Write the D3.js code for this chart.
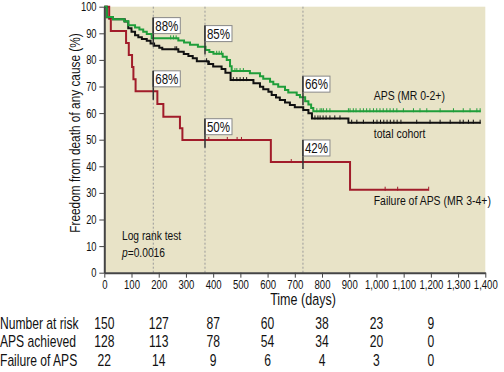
<!DOCTYPE html>
<html lang="en">
<head>
<meta charset="UTF-8">
<title>Freedom from death of any cause</title>
<script src="https://d3js.org/d3.v7.min.js"></script>
<style>
  body { margin: 0; background: #fff; }
  svg { font-family: "Liberation Sans", Arial, sans-serif; }
  .axis path, .axis line { stroke: #444; }
  .axis text { fill: #111; }
</style>
</head>
<body>
<svg width="504" height="372"></svg>
<script>
// Kaplan-Meier steps: [day, survival % after drop]
const apsCurve = [[0,100],[9,96.1],[32,95.3],[73,94.5],[88,93.0],[113,92.2],[129,91.4],[143,90.6],[156,89.7],[174,88.1],
  [272,87.3],[293,86.5],[315,85.7],[344,84.9],[372,83.7],[386,83.0],[401,82.3],[435,81.2],[450,80.0],[462,77.6],[468,75.8],
  [535,75.0],[572,73.9],[584,72.9],[609,71.8],[621,70.8],[639,69.9],[664,68.7],[676,67.7],[707,66.8],[719,66.0],
  [738,64.5],[750,63.2],[760,61.9],[768,60.7]];
const apsEnd = 1383;
const apsCensor = [244,254,264,413,422,431,480,487,499,511,781,793,799,805,817,829,897,903,915,925,940,952,964,976,989,
  1001,1013,1025,1038,1050,1062,1075,1099,1136,1160,1185,1234,1283,1319,1344,1369,1381];

const totalCurve = [[0,100],[9,96.0],[32,95.3],[75,94.4],[88,91.9],[100,90.6],[113,89.3],[125,88.5],[138,87.9],[156,87.2],
  [170,86.2],[183,85.3],[202,84.6],[213,84.0],[272,83.1],[292,82.2],[309,81.5],[325,80.6],[340,79.5],[382,78.5],[400,77.5],
  [431,76.6],[445,75.2],[464,72.4],[548,71.2],[572,69.9],[584,69.0],[603,68.0],[615,66.8],[631,65.9],[645,64.9],[664,64.0],
  [682,63.0],[700,62.2],[731,61.2],[750,59.9],[763,58.0],[897,56.4]];
const totalEnd = 1383;
const totalCensor = [260,266,376,386,474,487,499,511,523,774,785,793,804,815,829,847,866,909,928,952,989,1002,1015,1027,
  1039,1051,1064,1076,1090,1148,1197,1234,1271,1307,1319,1338,1356,1381];

const failCurve = [[0,100],[18,95.5],[24,90.9],[80,86.4],[90,81.8],[102,77.3],[107,72.7],[115,68.2],[195,63.4],[217,58.6],
  [278,54.3],[287,49.9],[612,41.6],[903,31.2]];
const failEnd = 1192;
const failCensor = [384,452,488,504,687,1032,1078,1192];

// annotated landmark values
const markDays = [180, 370, 180, 370, 730, 730];
const markValues = [88, 85, 68, 50, 66, 42];
const guideDays = [180, 370, 730];

// number at risk table
const riskDays = [0, 200, 400, 600, 800, 1000, 1200];
const riskLabels = ["Number at risk", "APS achieved", "Failure of APS"];
const riskTotal = [150, 127, 87, 60, 38, 23, 9];
const riskAps = [128, 113, 78, 54, 34, 20, 0];
const riskFail = [22, 14, 9, 6, 4, 3, 0];

const xTicks = d3.range(0, 1401, 100);
const yTicks = d3.range(0, 101, 10);

const SX = 0.77; // condensed look
const svg = d3.select("svg");
const x = d3.scaleLinear().domain([0, 1400]).range([104.3, 485.3]);
const y = d3.scaleLinear().domain([0, 100]).range([272.7, 6.7]);

function label(px, py, str, size, anchor, rotate) {
  return svg.append("text")
    .attr("transform", `translate(${px},${py})` + (rotate ? ` rotate(${rotate})` : "") + ` scale(${SX},1)`)
    .attr("text-anchor", anchor || "start")
    .attr("font-size", size + "px").attr("fill", "#111")
    .text(str);
}

// plot background
svg.append("rect")
  .attr("x", x(0)).attr("y", y(100))
  .attr("width", x(1400) - x(0)).attr("height", y(0) - y(100))
  .attr("fill", "#e8e3c7");

// dashed guides
svg.selectAll(".guide").data(guideDays).enter().append("line")
  .attr("x1", d => x(d)).attr("x2", d => x(d))
  .attr("y1", y(100)).attr("y2", y(0))
  .attr("stroke", "#9a9a9a").attr("stroke-width", 1).attr("stroke-dasharray", "2,2");

function stepAt(curve, t) {
  let v = curve[0][1];
  curve.forEach(p => { if (p[0] <= t) v = p[1]; });
  return v;
}

const line = d3.line().x(d => x(d[0])).y(d => y(d[1])).curve(d3.curveStepAfter);

function drawCurve(curve, end, censor, color) {
  const pts = curve.concat([[end, curve[curve.length - 1][1]]]);
  svg.append("path").datum(pts)
    .attr("d", line).attr("fill", "none")
    .attr("stroke", color).attr("stroke-width", 2);
  svg.append("g").selectAll("line").data(censor).enter().append("line")
    .attr("x1", d => x(d)).attr("x2", d => x(d))
    .attr("y1", d => y(stepAt(curve, d)) - 3).attr("y2", d => y(stepAt(curve, d)) + 1)
    .attr("stroke", color).attr("stroke-width", 1);
}

drawCurve(failCurve, failEnd, failCensor, "#a11c2a");
drawCurve(totalCurve, totalEnd, totalCensor, "#111");
drawCurve(apsCurve, apsEnd, apsCensor, "#1f9e3a");

// landmark boxes
markDays.forEach((d, i) => {
  const v = markValues[i];
  const bx = x(d), by = y(v) - 21;
  svg.append("line")
    .attr("x1", bx).attr("x2", bx).attr("y1", by).attr("y2", y(v) + 8)
    .attr("stroke", "#333").attr("stroke-width", 1.5);
  svg.append("rect")
    .attr("x", bx).attr("y", by).attr("width", 27).attr("height", 16)
    .attr("fill", "#fff").attr("stroke", "#888").attr("stroke-width", 1);
  svg.append("line")
    .attr("x1", bx).attr("x2", bx).attr("y1", by).attr("y2", by + 16)
    .attr("stroke", "#333").attr("stroke-width", 1.5);
  label(bx + 13.5, by + 13, v + "%", 15, "middle");
});

// axes
svg.append("g").attr("class", "axis")
  .attr("transform", `translate(${x(0)},0)`)
  .call(d3.axisLeft(y).tickValues(yTicks).tickSize(5).tickPadding(5).tickSizeOuter(0))
  .call(g => g.select(".domain").attr("stroke-width", 2))
  .selectAll("text").attr("font-size", "12.2px").attr("transform", `scale(${SX},1)`);

svg.append("g").attr("class", "axis")
  .attr("transform", `translate(0,${y(0)})`)
  .call(d3.axisBottom(x).tickValues(xTicks).tickSize(5).tickPadding(3).tickSizeOuter(0)
    .tickFormat(d3.format(",")))
  .call(g => g.select(".domain").attr("stroke-width", 2))
  .selectAll("text").attr("font-size", "12.4px").attr("transform", `scale(${SX},1)`);

label(80, 133, "Freedom from death of any cause (%)", 15.4, "middle", -90);
label(303, 305, "Time (days)", 16.3, "middle");

// curve labels
label(x(990), y(65), "APS (MR 0-2+)", 13.6);
label(x(990), y(50.8), "total cohort", 13.6);
label(x(990), y(25.6), "Failure of APS (MR 3-4+)", 13.6);

label(x(65), y(12.2), "Log rank test", 13.3);
const pt = label(x(65), y(6.0), "", 13.3);
pt.append("tspan").attr("font-style", "italic").text("p");
pt.append("tspan").text("=0.0016");

// number at risk
const riskRows = [riskTotal, riskAps, riskFail];
const rowY = [328.5, 347, 366];
riskRows.forEach((row, r) => {
  label(0, rowY[r], riskLabels[r], 15.7);
  row.forEach((d, i) => label(x(riskDays[i]), rowY[r], d, 15.7, "middle"));
});
</script>
</body>
</html>
